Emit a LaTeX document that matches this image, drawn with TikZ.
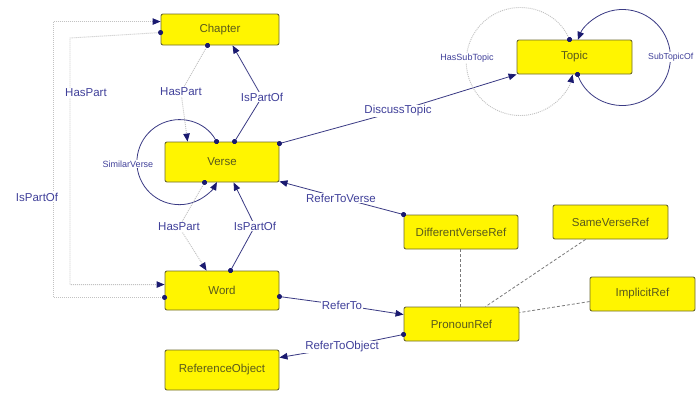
\documentclass[tikz,border=0pt]{standalone}
\usepackage{fontspec}
\setmainfont{Liberation Sans}
\usetikzlibrary{arrows.meta,calc}
\definecolor{boxfill}{HTML}{FFF500}
\definecolor{boxline}{HTML}{6E6A2E}
\definecolor{boxtext}{HTML}{5A5A1C}
\definecolor{lbl}{HTML}{40409A}
\definecolor{conn}{HTML}{3A3A84}
\definecolor{tipc}{HTML}{1A1A70}
\definecolor{dotc}{HTML}{C2C2C2}
\definecolor{dashc}{HTML}{7A7A7A}
\begin{document}
\begin{tikzpicture}[x=1pt,y=-1pt,
  cls/.style={draw=boxline, fill=boxfill, line width=0.9pt, rounded corners=2pt,
    text=boxtext, font=\fontsize{11.5}{13}\selectfont, inner sep=0pt},
  tips/.style={{Circle[length=5pt,color=tipc]}-{Triangle[length=8pt,width=6.5pt,color=tipc]}, shorten <=-2.5pt},
  rel/.style={draw=conn, line width=0.8pt, tips},
  dotrel/.style={draw=dotc, line width=0.9pt, dash pattern=on 1pt off 1pt, tips},
  dashrel/.style={draw=dashc, line width=0.8pt, dash pattern=on 3pt off 2pt},
  lab/.style={fill=white, text=lbl, font=\fontsize{11.5}{13}\selectfont, inner sep=1pt},
  slab/.style={fill=white, text=lbl, font=\fontsize{9}{11}\selectfont, inner sep=1pt}]
\clip (0,0) rectangle (696,392);
\fill[white] (0,0) rectangle (696,392);

% classes
\node[cls, minimum width=118pt, minimum height=31pt] (Chapter) at (220,29.5) {Chapter};
\node[cls, minimum width=114pt, minimum height=40pt] (Verse) at (222,162) {Verse};
\node[cls, minimum width=114pt, minimum height=39pt] (Word) at (222,290.5) {Word};
\node[cls, minimum width=114pt, minimum height=40pt] (RefObj) at (222,370) {ReferenceObject};
\node[cls, minimum width=115pt, minimum height=34pt] (Topic) at (574.5,57) {Topic};
\node[cls, minimum width=114pt, minimum height=34pt] (DVR) at (461,232) {DifferentVerseRef};
\node[cls, minimum width=115pt, minimum height=34pt] (SVR) at (610.5,222) {SameVerseRef};
\node[cls, minimum width=105pt, minimum height=34pt] (IR) at (642.5,294) {ImplicitRef};
\node[cls, minimum width=115pt, minimum height=34pt] (PR) at (461.5,324) {PronounRef};

% label positions
\coordinate (mHP1) at (181,92);
\coordinate (mIP1) at (262,97);
\coordinate (mHP2) at (179,227);
\coordinate (mIP2) at (255,226);
\coordinate (mDT) at (398,111);
\coordinate (mRV) at (341,198);
\coordinate (mRT) at (342,305);
\coordinate (mRO) at (342,347);
\coordinate (oX) at (53,0);
\coordinate (iX) at (70,38);

% Chapter <-> Verse
\draw[dotrel] ($(Chapter.south west)+(47,0)$) -- (mHP1) -- ($(Verse.north west)+(23,0)$);
\draw[rel] ($(Verse.north west)+(70,0)$) -- (mIP1) -- ($(Chapter.south west)+(72,0)$);
% SimilarVerse loop
\draw[rel] ($(Verse.north west)+(52,0)$) arc[start angle=-29, end angle=-332, radius=42.5];
% Word -> Chapter (outer) and Chapter -> Word (inner)
\coordinate (w1) at ($(Word.south west)+(0,-13)$);
\coordinate (c1) at ($(Chapter.north west)+(0,8)$);
\draw[dotrel] (w1) -- (w1 -| oX) -- (c1 -| oX) -- (c1);
\coordinate (c2) at ($(Chapter.north west)+(0,19)$);
\coordinate (w2) at ($(Word.north west)+(0,14)$);
\draw[dotrel] (c2) -- (iX) -- (w2 -| iX) -- (w2);
% Verse <-> Word
\draw[dotrel] ($(Verse.south west)+(40,0)$) -- (mHP2) -- ($(Word.north west)+(42,0)$);
\draw[rel] ($(Word.north west)+(66,0)$) -- (mIP2) -- ($(Verse.south west)+(69,0)$);
% Verse -> Topic
\draw[rel] ($(Verse.north east)+(0,2)$) -- (mDT) -- (Topic.south west);
% Topic loops
\draw[dotrel] ($(Topic.north west)+(53,0)$) arc[start angle=-24, end angle=-346, radius=54];
\draw[rel] ($(Topic.south west)+(61,0)$) arc[start angle=159.3, end angle=-158.4, radius=48];
% references
\draw[rel] (DVR.north west) -- (mRV) -- ($(Verse.south east)+(0,-1)$);
\draw[rel] ($(Word.north east)+(0,26)$) -- (mRT) -- ($(PR.north west)+(0,8)$);
\draw[rel] ($(PR.south west)+(0,-7)$) -- (mRO) -- ($(RefObj.north east)+(0,8)$);
% subtypes
\draw[dashrel] ($(DVR.south west)+(57,0)$) -- ($(PR.north west)+(57,0)$);
\draw[dashrel] ($(SVR.south west)+(33,0)$) -- ($(PR.north west)+(82,0)$);
\draw[dashrel] ($(IR.north west)+(0,25)$) -- ($(PR.north east)+(0,6)$);

% labels
\node[lab] (lHP1) at (mHP1) {HasPart};
\node[lab] (lIP1) at (mIP1) {IsPartOf};
\node[lab] (lHP2) at (mHP2) {HasPart};
\node[lab] (lIP2) at (mIP2) {IsPartOf};
\node[lab] (lDT) at (mDT) {DiscussTopic};
\node[lab] (lRV) at (mRV) {ReferToVerse};
\node[lab] (lRT) at (mRT) {ReferTo};
\node[lab] (lRO) at (mRO) {ReferToObject};
\node[lab] (lIPo) at (37,197) {IsPartOf};
\node[lab] (lHPi) at (86,93) {HasPart};
\node[slab] (lSV) at (128,164) {SimilarVerse};
\node[slab] (lHST) at (467,58) {HasSubTopic};
\node[slab, anchor=west, font=\fontsize{8.7}{11}\selectfont] (lSTO) at (647,57) {SubTopicOf};
\end{tikzpicture}
\end{document}
